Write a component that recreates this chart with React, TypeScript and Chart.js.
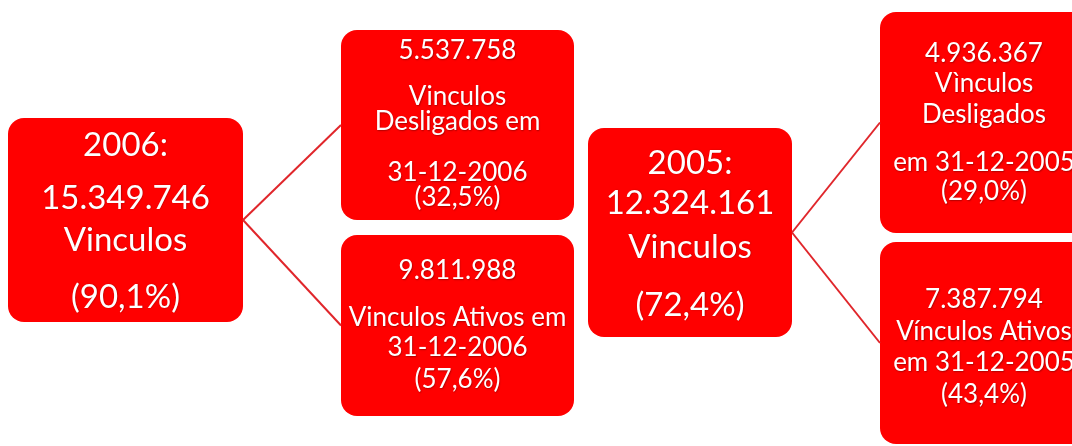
import React, { useEffect, useRef } from "react";
import { Chart, registerables } from "chart.js";

Chart.register(...registerables);

// ---- Data (texts of the diagram) ----
const box2006 = ["2006:", "15.349.746", "Vinculos", "(90,1%)"];
const boxDesligados2006 = ["5.537.758", "Vinculos", "Desligados em", "31-12-2006", "(32,5%)"];
const boxAtivos2006 = ["9.811.988", "Vinculos Ativos em", "31-12-2006", "(57,6%)"];
const box2005 = ["2005:", "12.324.161", "Vinculos", "(72,4%)"];
const boxDesligados2005 = ["4.936.367", "Vìnculos", "Desligados", "em 31-12-2005", "(29,0%)"];
const boxAtivos2005 = ["7.387.794", "Vínculos Ativos", "em 31-12-2005", "(43,4%)"];

const boxTexts = [box2006, boxDesligados2006, boxAtivos2006, box2005, boxDesligados2005, boxAtivos2005];

// tree: parent box index -> child box indices
const parents = [0, 3];
const children = [[1, 2], [4, 5]];

// ---- Layout (positions / sizes / styles, in diagram units = px) ----
const W = 1072;
const H = 446;
const boxRects = [
  [8, 118, 243, 322],
  [341, 30, 574, 220],
  [341, 235, 574, 416],
  [588, 128, 792, 337],
  [880, 12, 1088, 233],
  [880, 242, 1088, 444],
];
const lineYs = [
  [145, 198, 240, 297],
  [51, 97, 122, 173, 198],
  [271, 318, 348, 380],
  [163, 203, 247, 305],
  [54, 84, 115, 163, 192],
  [300, 332, 363, 395],
];
const fontSizes = [33, 26, 26, 33, 26, 26];
const boxColor = "#ff0000";
const lineColor = "#e0262b";
const fontFamily = "Lato, 'Open Sans', sans-serif";

function rectMid(i: number) {
  const r = boxRects[i];
  return { left: r[0], right: r[2], midY: (r[1] + r[3]) / 2 };
}

const boxesPlugin = {
  id: "boxes",
  beforeDatasetsDraw(chart: any) {
    const { ctx, scales } = chart;
    const xs = scales.x;
    const ys = scales.y;
    ctx.save();
    boxRects.forEach((r) => {
      const x0 = xs.getPixelForValue(r[0]);
      const x1 = xs.getPixelForValue(r[2]);
      const y0 = ys.getPixelForValue(r[1]);
      const y1 = ys.getPixelForValue(r[3]);
      ctx.beginPath();
      ctx.fillStyle = boxColor;
      (ctx as any).roundRect(x0, y0, x1 - x0, y1 - y0, 16);
      ctx.fill();
    });
    ctx.restore();
  },
  afterDatasetsDraw(chart: any) {
    const { ctx, scales } = chart;
    const xs = scales.x;
    const ys = scales.y;
    ctx.save();
    ctx.textAlign = "center";
    ctx.textBaseline = "middle";
    boxTexts.forEach((lines, i) => {
      const r = boxRects[i];
      const cx = xs.getPixelForValue((r[0] + r[2]) / 2);
      ctx.font = `${fontSizes[i]}px ${fontFamily}`;
      lines.forEach((t, j) => {
        const cy = ys.getPixelForValue(lineYs[i][j]);
        ctx.shadowColor = "rgba(80,0,0,0.45)";
        ctx.shadowBlur = 1.5;
        ctx.shadowOffsetX = 0.6;
        ctx.shadowOffsetY = 0.6;
        ctx.fillStyle = "#ffffff";
        ctx.fillText(t, cx, cy);
      });
    });
    ctx.restore();
  },
};

function buildConnectorDatasets() {
  const ds: any[] = [];
  parents.forEach((p, k) => {
    const pm = rectMid(p);
    children[k].forEach((c) => {
      const cm = rectMid(c);
      ds.push({
        type: "scatter",
        data: [
          { x: pm.right, y: pm.midY },
          { x: cm.left, y: cm.midY },
        ],
        showLine: true,
        borderColor: lineColor,
        borderWidth: 2,
        pointRadius: 0,
        fill: false,
      });
    });
  });
  return ds;
}

export default function App() {
  const ref = useRef<HTMLCanvasElement | null>(null);
  useEffect(() => {
    document.body.style.margin = "0";
    const canvas = ref.current;
    if (!canvas) return;
    const chart = new Chart(canvas, {
      type: "scatter",
      data: { datasets: buildConnectorDatasets() },
      options: {
        animation: false,
        responsive: false,
        maintainAspectRatio: false,
        devicePixelRatio: 1,
        layout: { padding: 0 },
        plugins: { legend: { display: false }, tooltip: { enabled: false } },
        scales: {
          x: { type: "linear", min: 0, max: W, display: false },
          y: { type: "linear", min: 0, max: H, reverse: true, display: false },
        },
      },
      plugins: [boxesPlugin],
    });
    return () => chart.destroy();
  }, []);
  return (
    <div style={{ width: W, height: H, background: "#ffffff" }}>
      <canvas ref={ref} width={W} height={H} style={{ display: "block", width: W, height: H }} />
    </div>
  );
}
